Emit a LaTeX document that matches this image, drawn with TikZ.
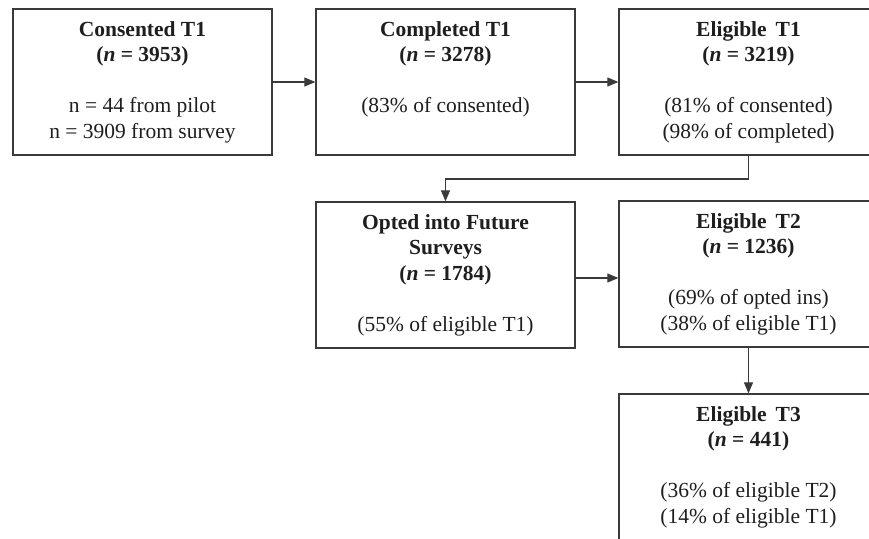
\documentclass[tikz,border=0pt]{standalone}
\usepackage{fontspec}
\setmainfont{Liberation Serif}
\usetikzlibrary{arrows.meta}
\definecolor{linec}{HTML}{3A3A3A}
\definecolor{textc}{HTML}{1E1E1E}
\tikzset{
  box/.style={draw=linec, line width=1.3pt, inner sep=0pt, text=textc, fill=white},
  conn/.style={draw=linec, line width=1.1pt, -{Triangle[length=11pt,width=9pt]}},
}
\newcommand{\boxtext}[1]{\parbox[c][146pt][t]{259pt}{\centering\fontsize{21.5}{25.5}\selectfont\rule{0pt}{27pt}#1}}
\begin{document}
\begin{tikzpicture}[x=1pt,y=-1pt]
\useasboundingbox (0,0) rectangle (869,538);
\clip (0,0) rectangle (869,538);
\fill[white] (0,0) rectangle (869,538);
\node[box] (b1) at (142.5,82) {\boxtext{\textbf{Consented T1}\\ \textbf{(\textit{n} = 3953)}\\[25.5pt] n = 44 from pilot\\ n = 3909 from survey}};
\node[box] (b2) at (445.5,82) {\boxtext{\textbf{Completed T1}\\ \textbf{(\textit{n} = 3278)}\\[25.5pt] (83\% of consented)}};
\node[box] (b3) at (748.5,82) {\boxtext{\textbf{Eligible\, T1}\\ \textbf{(\textit{n} = 3219)}\\[25.5pt] (81\% of consented)\\ (98\% of completed)}};
\node[box] (b4) at (445.5,275) {\boxtext{\textbf{Opted into Future}\\ \textbf{Surveys}\\ \textbf{(\textit{n} = 1784)}\\[25.5pt] (55\% of eligible T1)}};
\node[box] (b5) at (748.5,274) {\boxtext{\textbf{Eligible\, T2}\\ \textbf{(\textit{n} = 1236)}\\[25.5pt] (69\% of opted ins)\\ (38\% of eligible T1)}};
\node[box] (b6) at (748.5,467) {\boxtext{\textbf{Eligible\, T3}\\ \textbf{(\textit{n} = 441)}\\[25.5pt] (36\% of eligible T2)\\ (14\% of eligible T1)}};
\coordinate (e1) at (748.5,179);
\coordinate (e2) at (445.5,179);
\draw[conn] (b1.east) -- (b2.west);
\draw[conn] (b2.east) -- (b3.west);
\draw[conn] (b3.south) -- (e1) -- (e2) -- (b4.north);
\draw[conn] ([yshift=-3pt]b4.east) -- ([yshift=-3pt]b5.west |- b4.east);
\draw[conn] (b5.south) -- (b6.north);
\end{tikzpicture}
\end{document}
